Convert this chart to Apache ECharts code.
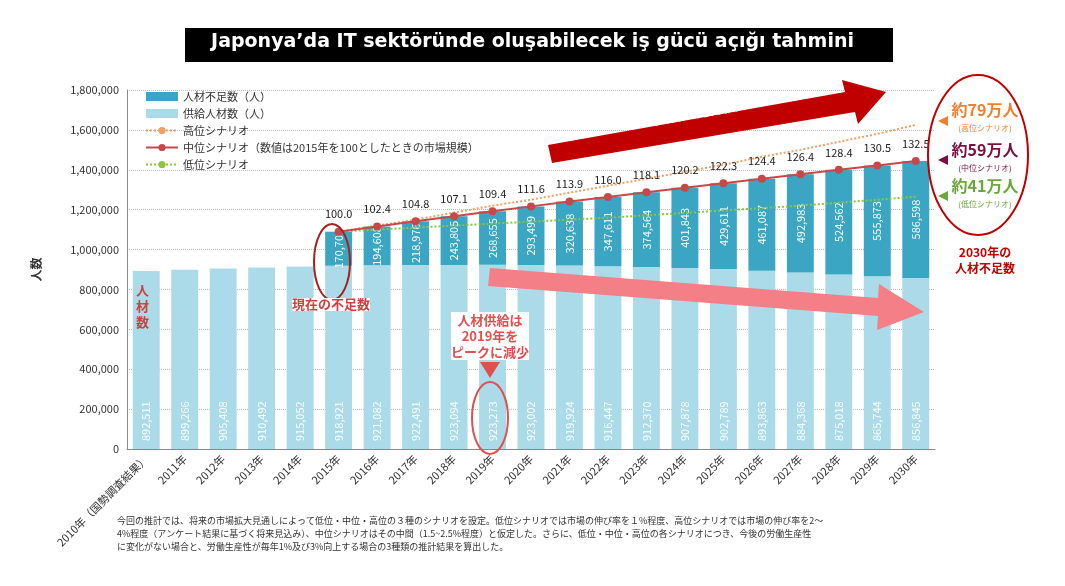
<!DOCTYPE html>
<html><head><meta charset="utf-8">
<script src="https://cdn.jsdelivr.net/npm/echarts@6/dist/echarts.min.js"></script>
<style>body{margin:0;background:#fff}#c{width:1065px;height:586px}</style>
</head><body><div id="c"></div>
<script>
var years = ['2010年（国勢調査結果）','2011年','2012年','2013年','2014年','2015年','2016年','2017年','2018年','2019年','2020年','2021年','2022年','2023年','2024年','2025年','2026年','2027年','2028年','2029年','2030年'];
var supply = [892511,899266,905408,910492,915052,918921,921082,922491,923094,923273,923002,919924,916447,912370,907878,902789,893863,884368,875018,865744,856845];
var shortage = [null,null,null,null,null,170700,194608,218976,243805,268655,293499,320638,347611,374564,401843,429611,461087,492983,524562,555873,586598];
var marketIndex = [null,null,null,null,null,100.0,102.4,104.8,107.1,109.4,111.6,113.9,116.0,118.1,120.2,122.3,124.4,126.4,128.4,130.5,132.5];
var highScenario = [null,null,null,null,null,1090000,1120000,1150000,1185000,1220000,1250000,1285000,1320000,1355000,1390000,1425000,1465000,1500000,1540000,1580000,1625000];
var lowScenario = [null,null,null,null,null,1090000,1100000,1110000,1120000,1130000,1140000,1150000,1160000,1172000,1184000,1196000,1208000,1220000,1235000,1250000,1265000];

var midScenario = supply.map(function (v, i) {
  return shortage[i] == null ? null : v + shortage[i];
});

var chart = echarts.init(document.getElementById('c'));
var F = '"Noto Sans CJK JP", sans-serif';

var notes = [
  { type: 'rect', shape: { x: 185, y: 28, width: 708, height: 34 }, style: { fill: '#000' } },
  { type: 'text', left: 'center', top: 33, style: { text: 'Japonya’da IT sektöründe oluşabilecek iş gücü açığı tahmini', fill: '#fff', font: 'bold 19px "DejaVu Sans"' } },
  { type: 'polygon', shape: { points: [[548,145],[845,92],[842,80],[886,92],[858,124],[855,112],[552,163]] }, style: { fill: '#c00000' } },
  { type: 'text', x: 690, y: 108, rotation: 0.17, style: { text: 'ITニーズの拡大により\n市場規模は今後も拡大', fill: '#fff', font: 'bold 11px ' + F, align: 'center', verticalAlign: 'middle', lineHeight: 13 } },
  { type: 'polygon', shape: { points: [[490,268],[878,298],[879,284],[924,312],[877,330],[878,316],[488,286]] }, style: { fill: '#f47f86' } },
  { type: 'ellipse', shape: { cx: 332, cy: 262, rx: 18, ry: 38 }, style: { fill: 'none', stroke: '#a62020', lineWidth: 2 } },
  { type: 'text', x: 292, y: 298, style: { text: '現在の不足数', fill: '#d04040', font: 'bold 13px ' + F, backgroundColor: '#fff' } },
  { type: 'text', x: 136, y: 282, style: { text: '人\n材\n数', fill: '#d04040', font: 'bold 13px ' + F, lineHeight: 16 } },
  { type: 'text', x: 490, y: 312, style: { text: '人材供給は\n2019年を\nピークに減少', fill: '#e05050', font: 'bold 13px ' + F, align: 'center', lineHeight: 16, backgroundColor: '#fff' } },
  { type: 'polygon', shape: { points: [[480,362],[500,362],[490,378]] }, style: { fill: '#e05050' } },
  { type: 'ellipse', shape: { cx: 490, cy: 418, rx: 18, ry: 36 }, style: { fill: 'none', stroke: '#e05050', lineWidth: 2 } },
  { type: 'ellipse', shape: { cx: 978, cy: 155, rx: 50, ry: 80 }, style: { fill: 'none', stroke: '#c00000', lineWidth: 2 } },
  { type: 'polygon', shape: { points: [[938,121],[948,116],[948,126]] }, style: { fill: '#f08030' } },
  { type: 'polygon', shape: { points: [[938,160],[948,155],[948,165]] }, style: { fill: '#7a1040' } },
  { type: 'polygon', shape: { points: [[938,196],[948,191],[948,201]] }, style: { fill: '#6aa83a' } },
  { type: 'text', x: 985, y: 102, style: { text: '約79万人', fill: '#f08030', font: 'bold 16px ' + F, align: 'center' } },
  { type: 'text', x: 985, y: 124, style: { text: '(高位シナリオ)', fill: '#f08030', font: '8px ' + F, align: 'center' } },
  { type: 'text', x: 985, y: 142, style: { text: '約59万人', fill: '#7a1040', font: 'bold 16px ' + F, align: 'center' } },
  { type: 'text', x: 985, y: 164, style: { text: '(中位シナリオ)', fill: '#7a1040', font: '8px ' + F, align: 'center' } },
  { type: 'text', x: 985, y: 178, style: { text: '約41万人', fill: '#6aa83a', font: 'bold 16px ' + F, align: 'center' } },
  { type: 'text', x: 985, y: 200, style: { text: '(低位シナリオ)', fill: '#6aa83a', font: '8px ' + F, align: 'center' } },
  { type: 'text', x: 985, y: 244, style: { text: '2030年の\n人材不足数', fill: '#c00000', font: 'bold 12px ' + F, align: 'center', lineHeight: 16 } },
  { type: 'text', x: 117, y: 514, style: { text: '今回の推計では、将来の市場拡大見通しによって低位・中位・高位の３種のシナリオを設定。低位シナリオでは市場の伸び率を１%程度、高位シナリオでは市場の伸び率を2～\n4%程度（アンケート結果に基づく将来見込み）、中位シナリオはその中間（1.5~2.5%程度）と仮定した。さらに、低位・中位・高位の各シナリオにつき、今後の労働生産性\nに変化がない場合と、労働生産性が毎年1%及び3%向上する場合の3種類の推計結果を算出した。', fill: '#333', font: '9px ' + F, lineHeight: 13 } }
];
notes.forEach(function (g) { g.z = 100; });

var option = {
  animation: false,
  textStyle: { fontFamily: F },
  grid: { left: 127, right: 130, top: 90, bottom: 137 },
  xAxis: {
    type: 'category', data: years,
    axisLine: { lineStyle: { color: '#888' } },
    axisTick: { show: false },
    axisLabel: { rotate: 45, color: '#333', fontSize: 11, interval: 0, margin: 8 }
  },
  yAxis: {
    type: 'value', min: 0, max: 1800000, interval: 200000,
    name: '人数', nameLocation: 'middle', nameGap: 85, nameRotate: 90,
    nameTextStyle: { fontWeight: 'bold', fontSize: 12, color: '#333' },
    axisLine: { show: true, lineStyle: { color: '#888' } },
    axisTick: { show: false },
    splitLine: { lineStyle: { color: '#bbb', type: 'dotted' } },
    axisLabel: { color: '#333', fontSize: 11, formatter: function (v) { return v.toLocaleString('en-US'); } }
  },
  legend: {
    orient: 'vertical', left: 140, top: 86, itemGap: 6, itemWidth: 32, itemHeight: 9,
    textStyle: { fontSize: 11, color: '#333' },
    data: [
      { name: '人材不足数（人）', icon: 'rect' },
      { name: '供給人材数（人）', icon: 'rect' },
      { name: '高位シナリオ' },
      { name: '中位シナリオ（数値は2015年を100としたときの市場規模）' },
      { name: '低位シナリオ' }
    ]
  },
  series: [
    {
      name: '供給人材数（人）', type: 'bar', stack: 's', data: supply, barWidth: '70%',
      itemStyle: { color: '#abdbe8' },
      label: { show: true, position: 'insideBottom', rotate: 90, align: 'left', verticalAlign: 'middle', distance: 8, color: '#fff', fontSize: 11,
        formatter: function (p) { return p.value.toLocaleString('en-US'); } }
    },
    {
      name: '人材不足数（人）', type: 'bar', stack: 's', data: shortage,
      itemStyle: { color: '#3aa6c4' },
      label: { show: true, position: 'inside', rotate: 90, color: '#fff', fontSize: 11,
        formatter: function (p) { return p.value.toLocaleString('en-US'); } }
    },
    {
      name: '高位シナリオ', type: 'line', data: highScenario, symbol: 'none', z: 5,
      lineStyle: { color: '#f0a060', width: 2, type: 'dotted' }, itemStyle: { color: '#f0a060' }
    },
    {
      name: '低位シナリオ', type: 'line', data: lowScenario, symbol: 'none', z: 5,
      lineStyle: { color: '#8cc63f', width: 2, type: 'dotted' }, itemStyle: { color: '#8cc63f' }
    },
    {
      name: '中位シナリオ（数値は2015年を100としたときの市場規模）', type: 'line', data: midScenario, z: 6,
      symbol: 'circle', symbolSize: 8,
      lineStyle: { color: '#c8484a', width: 2 }, itemStyle: { color: '#c8484a' },
      label: { show: true, position: 'top', distance: 8, color: '#222', fontSize: 11,
        formatter: function (p) { return marketIndex[p.dataIndex].toFixed(1); } }
    }
  ],
  graphic: notes
};
chart.setOption(option);
</script>
</body></html>
